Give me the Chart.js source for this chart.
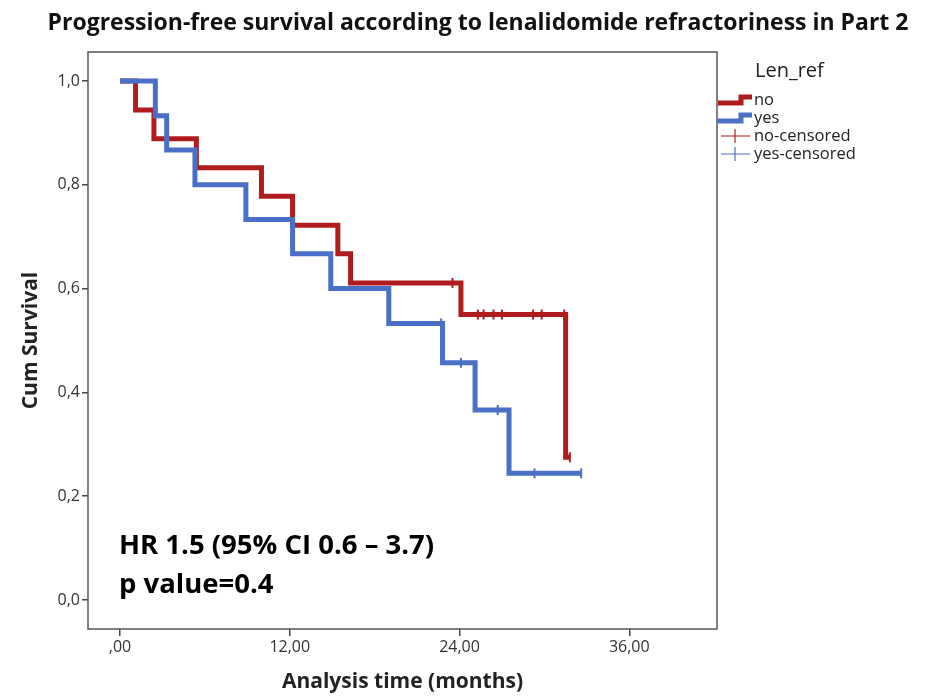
<!DOCTYPE html>
<html>
<head>
<meta charset="utf-8">
<script src="https://cdn.jsdelivr.net/npm/chart.js@4/dist/chart.umd.min.js"></script>
<style>
  body { margin: 0; background: #fff; }
</style>
</head>
<body>
<canvas id="kmChart" width="927" height="696"></canvas>
<script>
// Kaplan-Meier PFS by lenalidomide refractoriness

var noTimes = [0, 1.1, 2.4, 5.4, 10.0, 12.2, 15.4, 16.3, 24.1, 31.5, 31.8];
var noSurv = [1, 0.944, 0.889, 0.833, 0.778, 0.722, 0.667, 0.611, 0.55, 0.275, 0.275];

var yesTimes = [0, 2.5, 3.3, 5.3, 8.9, 12.2, 14.9, 19.0, 22.8, 25.1, 27.5, 32.6];
var yesSurv = [1, 0.933, 0.867, 0.8, 0.733, 0.667, 0.6, 0.533, 0.457, 0.366, 0.244, 0.244];

var noCensTimes = [23.5, 25.3, 25.7, 26.4, 27.0, 29.2, 29.8, 31.4, 31.8];
var noCensSurv = [0.611, 0.55, 0.55, 0.55, 0.55, 0.55, 0.55, 0.55, 0.275];

var yesCensTimes = [22.7, 24.1, 26.7, 29.3, 32.6];
var yesCensSurv = [0.533, 0.457, 0.366, 0.244, 0.244];

var xTicks = [0, 12, 24, 36];
var xTickLabels = [",00", "12,00", "24,00", "36,00"];
var yTicks = [0, 0.2, 0.4, 0.6, 0.8, 1.0];
var yTickLabels = ["0,0", "0,2", "0,4", "0,6", "0,8", "1,0"];

var legendLabels = ["no", "yes", "no-censored", "yes-censored"];
var noteLines = ["HR 1.5 (95% CI 0.6 \u2013 3.7)", "p value=0.4"];

var RED = "#b01c1e";
var BLUE = "#4a6fc7";

function pts(xs, ys) {
    return xs.map(function (x, i) { return { x: x, y: ys[i] }; });
}

Chart.defaults.font.family = "'Open Sans', sans-serif";

// extra drawing: frame, title, legend, HR note
var extras = {
    id: "extras",
    afterDraw: function (chart) {
        var ctx = chart.ctx;
        var a = chart.chartArea;
        ctx.save();

        ctx.strokeStyle = "#555";
        ctx.lineWidth = 1.5;
        ctx.strokeRect(a.left, a.top, a.right - a.left, a.bottom - a.top);

        ctx.fillStyle = "#111";
        ctx.font = "bold 23px 'Open Sans'";
        ctx.textAlign = "center";
        ctx.textBaseline = "alphabetic";
        ctx.fillText("Progression-free survival according to lenalidomide refractoriness in Part 2", 478, 30);

        // legend
        ctx.textAlign = "left";
        ctx.textBaseline = "middle";
        ctx.fillStyle = "#222";
        ctx.font = "20px 'Open Sans'";
        ctx.fillText("Len_ref", 755, 71);

        ctx.font = "16.5px 'Open Sans'";
        var rows = [100, 118, 136, 154];
        var cols = [RED, BLUE, RED, BLUE];
        rows.forEach(function (y, i) {
            ctx.strokeStyle = cols[i];
            ctx.beginPath();
            if (i < 2) {
                ctx.lineWidth = 5;
                ctx.moveTo(718, y + 3);
                ctx.lineTo(741, y + 3);
                ctx.lineTo(741, y - 3);
                ctx.lineTo(752, y - 3);
            } else {
                ctx.lineWidth = 1.2;
                ctx.moveTo(721, y);
                ctx.lineTo(750, y);
                ctx.moveTo(735, y - 7);
                ctx.lineTo(735, y + 7);
            }
            ctx.stroke();
            ctx.fillStyle = "#222";
            ctx.fillText(legendLabels[i], 754, y);
        });

        // HR note
        ctx.fillStyle = "#000";
        ctx.font = "bold 27.5px 'Open Sans'";
        ctx.textBaseline = "alphabetic";
        ctx.fillText(noteLines[0], 119, 554);
        ctx.fillText(noteLines[1], 119, 593);

        ctx.restore();
    }
};

new Chart(document.getElementById("kmChart"), {
    type: "line",
    data: {
        datasets: [
            {
                label: "no",
                data: pts(noTimes, noSurv),
                borderColor: RED,
                borderWidth: 5,
                stepped: "before",
                pointRadius: 0,
                fill: false,
                order: 2
            },
            {
                label: "yes",
                data: pts(yesTimes, yesSurv),
                borderColor: BLUE,
                borderWidth: 5,
                stepped: "before",
                pointRadius: 0,
                fill: false,
                order: 1
            },
            {
                label: "no-censored",
                type: "scatter",
                data: pts(noCensTimes, noCensSurv),
                borderColor: RED,
                backgroundColor: RED,
                pointStyle: "line",
                rotation: 90,
                pointRadius: 5,
                borderWidth: 2,
                order: 0
            },
            {
                label: "yes-censored",
                type: "scatter",
                data: pts(yesCensTimes, yesCensSurv),
                borderColor: BLUE,
                backgroundColor: BLUE,
                pointStyle: "line",
                rotation: 90,
                pointRadius: 5,
                borderWidth: 2,
                order: 0
            }
        ]
    },
    options: {
        responsive: false,
        animation: false,
        devicePixelRatio: 1,
        layout: {
            padding: { left: 14, right: 210, top: 52, bottom: 0 }
        },
        plugins: {
            legend: { display: false },
            tooltip: { enabled: false }
        },
        scales: {
            x: {
                type: "linear",
                min: -2.26,
                max: 42.2,
                afterBuildTicks: function (s) {
                    s.ticks = xTicks.map(function (v) { return { value: v }; });
                },
                afterFit: function (s) { s.height = 67; },
                border: { display: false },
                grid: {
                    drawOnChartArea: false,
                    drawTicks: true,
                    tickLength: 7,
                    color: "#444",
                    lineWidth: 1.5
                },
                ticks: {
                    color: "#333",
                    font: { size: 16 },
                    padding: 2,
                    maxRotation: 0,
                    callback: function (v, i) { return xTickLabels[i]; }
                },
                title: {
                    display: true,
                    text: "Analysis time (months)",
                    color: "#222",
                    font: { size: 21, weight: "bold" },
                    padding: { top: 4, bottom: 1 }
                }
            },
            y: {
                min: -0.056,
                max: 1.056,
                afterBuildTicks: function (s) {
                    s.ticks = yTicks.map(function (v) { return { value: v }; });
                },
                afterFit: function (s) { s.width = 74; },
                border: { display: false },
                grid: {
                    drawOnChartArea: false,
                    drawTicks: true,
                    tickLength: 6,
                    color: "#444",
                    lineWidth: 1.5
                },
                ticks: {
                    color: "#333",
                    font: { size: 16 },
                    padding: 2,
                    callback: function (v, i) { return yTickLabels[i]; }
                },
                title: {
                    display: true,
                    text: "Cum Survival",
                    color: "#222",
                    font: { size: 21, weight: "bold" },
                    padding: { top: 4, bottom: 4 }
                }
            }
        }
    },
    plugins: [extras]
});
</script>
</body>
</html>
